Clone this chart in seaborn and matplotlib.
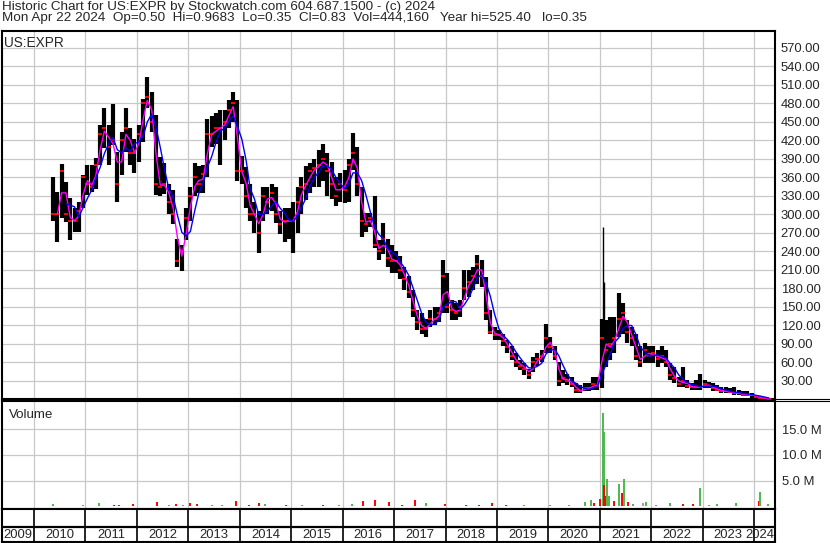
import numpy as np
import pandas as pd
import matplotlib
matplotlib.use('Agg')
import matplotlib.pyplot as plt
from matplotlib.lines import Line2D
import seaborn as sns

W, H = 830, 543

# monthly price bars, May 2010 .. Apr 2024
high = [
    361, 337, 382, 353, 326, 310, 321, 364,                     # 2010 May-Dec
    380, 380, 391, 445, 472, 445, 479, 402, 434, 473, 440, 423,  # 2011
    445, 488, 523, 499, 461, 394, 383, 350, 340, 260, 250, 310,  # 2012
    345, 383, 378, 380, 455, 460, 465, 470, 470, 485, 499, 485,  # 2013
    395, 377, 350, 320, 305, 345, 345, 350, 345, 305, 310, 310,  # 2014
    320, 345, 360, 378, 383, 390, 405, 415, 400, 385, 360, 367,  # 2015
    372, 390, 432, 410, 345, 302, 302, 330, 258, 286, 260, 250,  # 2016
    240, 232, 215, 200, 178, 145, 140, 130, 145, 150, 150, 226,  # 2017
    205, 161, 156, 161, 210, 210, 215, 234, 226, 199, 145, 118,  # 2018
    113, 107, 96, 86, 75, 64, 59, 50, 69, 75, 80, 123,           # 2019
    102, 86, 60, 48, 42, 37, 26, 24, 26, 26, 37, 37,             # 2020
    130, 129, 134, 134, 172, 156, 129, 118, 107, 86, 91, 86,     # 2021
    86, 80, 86, 80, 59, 53, 37, 53, 32, 26, 32, 42,              # 2022
    32, 29, 26, 24, 21, 21, 18, 21, 15, 13, 13, 10,              # 2023
    7, 5, 3, 2,                                                  # 2024 Jan-Apr
]
low = [
    290, 256, 294, 288, 259, 272, 272, 310,
    332, 337, 342, 380, 407, 380, 413, 321, 364, 402, 380, 368,
    385, 418, 472, 434, 332, 330, 334, 300, 285, 215, 208, 259,
    290, 330, 335, 335, 360, 410, 415, 380, 420, 440, 450, 355,
    350, 310, 290, 270, 237, 290, 300, 305, 286, 268, 255, 260,
    237, 270, 300, 323, 335, 345, 345, 355, 330, 325, 313, 320,
    318, 320, 372, 330, 264, 272, 280, 245, 226, 236, 215, 205,
    205, 195, 178, 165, 134, 113, 107, 102, 118, 120, 125, 140,
    140, 129, 129, 134, 161, 167, 178, 188, 183, 129, 107, 96,
    96, 86, 75, 64, 53, 48, 40, 34, 45, 55, 60, 75,
    75, 64, 22, 26, 24, 21, 10, 10, 13, 13, 15, 15,
    18, 53, 64, 75, 102, 107, 91, 86, 64, 53, 59, 59,
    59, 53, 59, 53, 32, 26, 21, 21, 18, 15, 15, 15,
    18, 18, 13, 13, 10, 10, 10, 7, 7, 5, 5, 2,
    1, 1, 0.5, 0.35,
]
close = [
    300, 300, 370, 300, 290, 290, 305, 360,
    350, 345, 380, 430, 440, 410, 420, 350, 420, 440, 400, 400,
    430, 480, 490, 450, 350, 345, 350, 320, 300, 225, 240, 295,
    330, 360, 350, 365, 430, 430, 440, 440, 450, 470, 480, 370,
    370, 330, 300, 300, 270, 330, 320, 335, 300, 285, 290, 290,
    290, 320, 345, 350, 370, 375, 380, 390, 370, 350, 330, 350,
    340, 380, 400, 350, 290, 285, 295, 250, 240, 260, 230, 225,
    225, 210, 195, 175, 145, 125, 115, 115, 130, 130, 140, 200,
    150, 145, 140, 150, 180, 190, 200, 220, 200, 140, 110, 105,
    105, 95, 85, 70, 60, 55, 50, 40, 60, 65, 70, 100,
    85, 70, 30, 35, 30, 25, 15, 14, 18, 18, 25, 22,
    100, 80, 90, 100, 130, 140, 110, 100, 70, 60, 80, 70,
    75, 65, 70, 60, 40, 35, 25, 30, 22, 20, 20, 20,
    25, 22, 18, 16, 13, 13, 12, 10, 10, 8, 8, 7,
    4, 3, 2, 0.83,
]

# single-day spikes in Jan 2021
spike_dates = ['2021-01-22', '2021-01-27']
spike_high = [280, 190]
spike_low = [35, 100]

# visible daily volume bars (millions), u=up d=down n=unchanged
vol_dates = [
    '2010-05-15', '2010-12-14', '2011-04-05', '2011-07-19', '2011-08-25', '2011-12-05',
    '2012-05-22', '2012-08-18', '2012-10-05', '2012-11-22', '2013-01-15', '2013-03-04',
    '2013-06-18', '2013-08-29', '2013-12-02', '2014-03-08', '2014-05-20', '2014-06-29',
    '2014-11-25', '2015-03-18', '2015-08-15', '2015-12-05', '2016-03-08', '2016-05-23',
    '2016-08-15', '2016-11-24', '2017-03-01', '2017-05-27', '2017-08-18', '2017-12-28',
    '2018-05-26', '2018-08-29', '2018-11-28', '2019-03-04', '2019-07-13', '2020-01-15',
    '2020-05-27', '2020-09-16', '2020-10-27', '2020-11-21', '2021-01-04', '2021-01-22',
    '2021-01-27', '2021-01-29', '2021-02-08', '2021-02-22', '2021-03-08', '2021-04-12',
    '2021-05-19', '2021-06-10', '2021-06-21', '2021-07-20', '2021-08-22', '2021-11-06',
    '2021-11-25', '2022-02-06', '2022-05-12', '2022-08-15', '2022-10-28', '2022-12-14',
    '2023-02-18', '2023-04-16', '2023-08-25', '2024-02-06', '2024-02-14', '2024-04-09',
]
vol_millions = [
    0.5, 0.3, 0.6, 0.3, 0.3, 0.5,
    0.8, 0.3, 0.5, 0.3, 0.6, 0.5,
    0.2, 0.2, 1.1, 0.3, 0.6, 0.4,
    0.3, 0.3, 0.3, 0.2, 0.4, 1.0,
    1.2, 0.8, 0.3, 1.2, 0.6, 0.4,
    0.2, 0.3, 0.6, 0.3, 0.2, 0.2,
    0.2, 0.8, 1.3, 0.7, 1.5, 18.1,
    14.5, 4.2, 2.0, 5.4, 2.0, 1.0,
    4.3, 2.7, 5.4, 0.8, 0.5, 0.6,
    0.8, 0.3, 0.6, 0.4, 0.4, 3.5,
    0.3, 0.4, 0.6, 1.0, 2.8, 0.5,
]
vol_dir = [
    'u', 'u', 'u', 'd', 'd', 'd',
    'd', 'u', 'd', 'u', 'd', 'd',
    'u', 'u', 'd', 'd', 'd', 'u',
    'd', 'u', 'd', 'u', 'u', 'd',
    'd', 'd', 'd', 'd', 'u', 'd',
    'd', 'd', 'd', 'd', 'u', 'u',
    'u', 'u', 'u', 'd', 'd', 'u',
    'u', 'd', 'd', 'u', 'u', 'd',
    'u', 'd', 'u', 'd', 'u', 'n',
    'u', 'u', 'u', 'd', 'd', 'u',
    'u', 'u', 'u', 'd', 'u', 'u',
]

year_starts = list(range(2010, 2025))
year_labels = [str(y) for y in range(2009, 2025)]
price_ticks = list(range(30, 571, 30))
vol_ticks = [5, 10, 15]

df = pd.DataFrame({
    'date': pd.date_range('2010-05-01', periods=len(close), freq='MS') + pd.Timedelta(days=14),
    'high': high, 'low': low, 'close': close,
})
df['ma_fast'] = df['close'].rolling(2).mean()
df['ma_slow'] = df['close'].rolling(4).mean()

sns.set_style('white')
plt.rcParams['font.family'] = ['Liberation Sans', 'DejaVu Sans']

fig = plt.figure(figsize=(W / 100, H / 100), dpi=100)


def rect(x0, y0, x1, y1):
    return [x0 / W, 1 - y1 / H, (x1 - x0) / W, (y1 - y0) / H]


ax = fig.add_axes(rect(2, 31, 775, 399))
axv = fig.add_axes(rect(2, 401, 775, 508.5))
axt = fig.add_axes(rect(2, 508.5, 775, 542))

xmin, xmax = pd.Timestamp('2009-05-18'), pd.Timestamp('2024-05-29')
ystarts = [pd.Timestamp(f'{y}-01-01') for y in year_starts]
GRID = '#c8c8c8'

for a in (ax, axv, axt):
    a.set_xlim(xmin, xmax)
    for s in a.spines.values():
        s.set_visible(True)
        s.set_color('black')
        s.set_linewidth(1.5)

# price panel
ax.set_ylim(0.8, 597.5)
for yr in ystarts:
    ax.axvline(yr, color=GRID, lw=0.9, zorder=1)
for p in price_ticks:
    ax.axhline(p, color=GRID, lw=0.9, zorder=1)
ax.vlines(df['date'], df['low'], df['high'], color='black', lw=3.0, zorder=2)
ax.vlines(pd.to_datetime(spike_dates), spike_low, spike_high, color='black', lw=1.0, zorder=2)
ax.scatter(df['date'], df['close'], marker='_', color='red', s=6, lw=1.4, zorder=3)
sns.lineplot(data=df, x='date', y='ma_fast', ax=ax, color='#ff00ff', lw=1.0, zorder=4)
sns.lineplot(data=df, x='date', y='ma_slow', ax=ax, color='#0000ff', lw=1.0, zorder=4)
ax.set_xlabel('')
ax.set_ylabel('')
ax.set_xticks([])
ax.yaxis.tick_right()
ax.set_yticks(price_ticks)
ax.set_yticklabels([f'{p:.2f}' for p in price_ticks])
ax.tick_params(axis='y', length=0, pad=4, labelsize=9.4)

# volume panel
vcol = {'u': '#4cb84c', 'd': '#ff0000', 'n': '#a0a0a0'}
axv.set_ylim(-0.39, 20.45)
for yr in ystarts:
    axv.axvline(yr, color=GRID, lw=0.9, zorder=1)
for v in vol_ticks:
    axv.axhline(v, color=GRID, lw=0.9, zorder=1)
axv.vlines(pd.to_datetime(vol_dates), 0, vol_millions,
           colors=[vcol[c] for c in vol_dir], lw=1.4, zorder=2)
axv.set_xticks([])
axv.yaxis.tick_right()
axv.set_yticks(vol_ticks)
axv.set_yticklabels([f'{v:.1f} M' for v in vol_ticks])
axv.tick_params(axis='y', length=0, pad=5, labelsize=9.4)

# year strip
axt.set_ylim(542, 508.5)
axt.axhline(526.5, color='black', lw=1.6)
for yr in ystarts:
    axt.axvline(yr, color='black', lw=1.2)
axt.set_xticks([])
axt.set_yticks([])
edges = [xmin] + ystarts + [xmax]
for lab, a, b in zip(year_labels, edges[:-1], edges[1:]):
    if lab == year_labels[-1]:
        axt.text(b - pd.Timedelta(days=2), 535, lab, ha='right', va='center', fontsize=9.4)
    else:
        axt.text(a + (b - a) / 2, 535, lab, ha='center', va='center', fontsize=9.4)

# double separator running into the label column
for yy in (399, 401):
    fig.add_artist(Line2D([775 / W, 1], [1 - yy / H] * 2, color='black', lw=0.8))

fig.text(2 / W, 1 - 9.8 / H,
         'Historic Chart for US:EXPR by Stockwatch.com 604.687.1500 - (c) 2024',
         fontsize=9.7, va='baseline')
fig.text(2 / W, 1 - 20.8 / H,
         'Mon Apr 22 2024  Op=0.50  Hi=0.9683  Lo=0.35  Cl=0.83  Vol=444,160   Year hi=525.40   lo=0.35',
         fontsize=9.7, va='baseline')
fig.text(4 / W, 1 - 46.5 / H, 'US:EXPR', fontsize=9.8, va='baseline')
fig.text(9 / W, 1 - 418 / H, 'Volume', fontsize=9.6, va='baseline')

fig.savefig('out.png', dpi=100)
